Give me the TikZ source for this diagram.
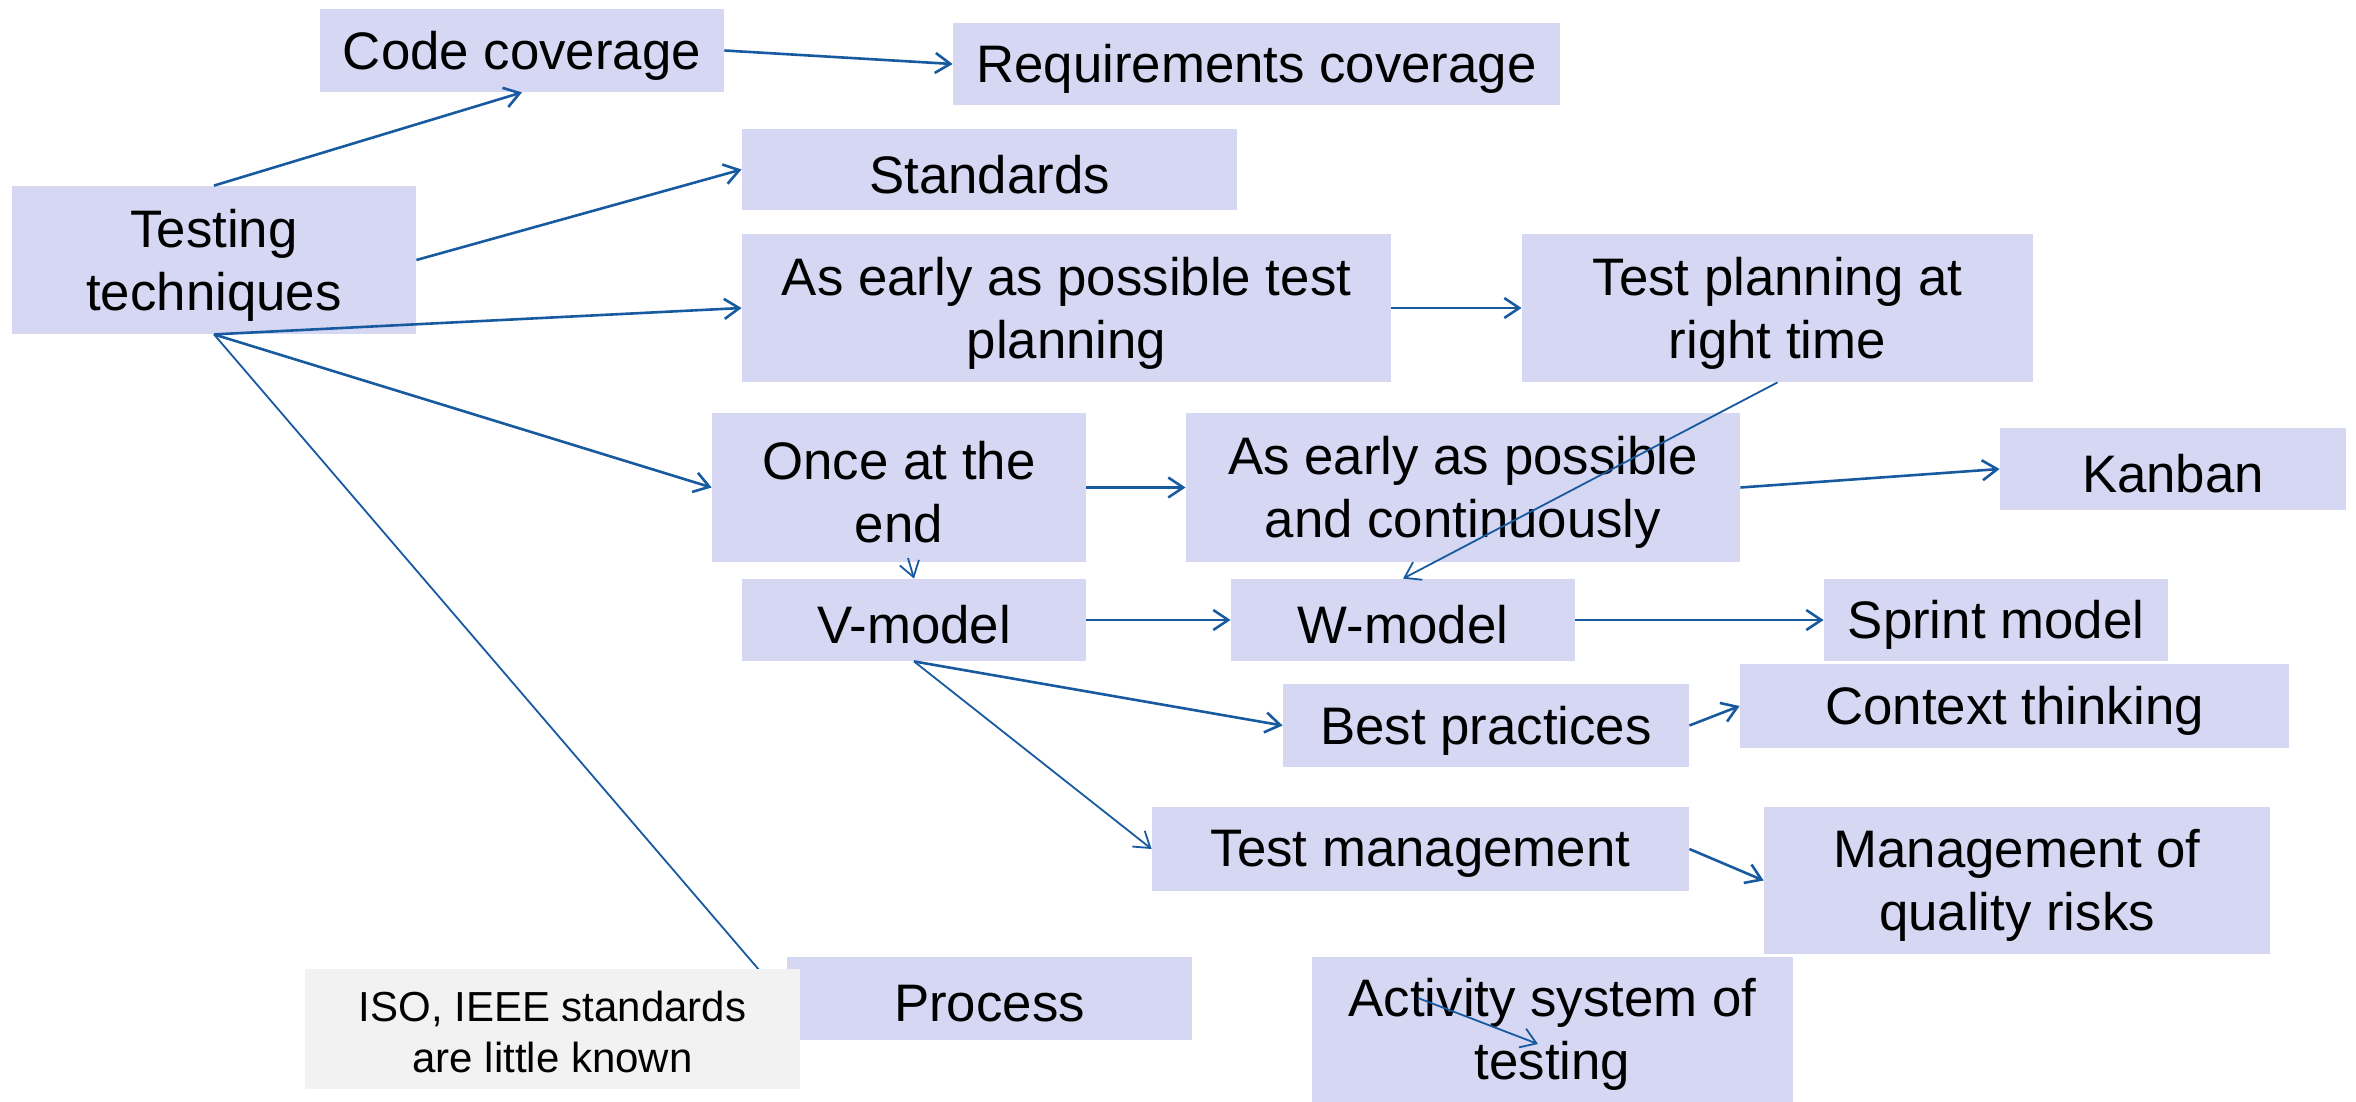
\documentclass[tikz,border=0pt]{standalone}
\usepackage{fontspec}
\setmainfont{Liberation Sans}
\usetikzlibrary{arrows.meta}
\definecolor{boxc}{RGB}{214,215,243}
\definecolor{notec}{RGB}{242,242,242}
\definecolor{arr}{RGB}{24,90,160}
\tikzset{
 bx/.style={fill=boxc, inner sep=0pt},
 bxtext/.style={inner sep=0pt, align=center, yshift=-2.5pt, font=\fontsize{26.4}{31.5}\selectfont},
 nt/.style={fill=notec, inner sep=0pt},
 nttext/.style={inner sep=0pt, align=center, yshift=-1.5pt, font=\fontsize{21}{25.5}\selectfont},
 ar/.style={draw=arr, line width=1.3pt, -{Straight Barb[length=7.5pt,width=10pt]}},
 ln/.style={draw=arr, line width=0.9pt},
 lw/.style={line width=0.9pt}
}
\newcommand\boxnode[7]{\node[#1, minimum width={(#5-#3)*0.5pt}, minimum height={(#6-#4)*0.5pt}, label={[#1text]center:{#7}}] (#2) at ({(#3+#5)/2},{(#4+#6)/2}) {};}
\begin{document}
\begin{tikzpicture}[x=0.5pt,y=-0.5pt]
\useasboundingbox (0,0) rectangle (2356,1102);
\boxnode{bx}{code}{320}{9}{724}{92}{Code coverage}
\boxnode{bx}{req}{953}{23}{1560}{105}{Requirements coverage}
\boxnode{bx}{tt}{12}{186}{416}{334}{Testing\\techniques}
\boxnode{bx}{std}{742}{129}{1237}{210}{Standards}
\boxnode{bx}{aeap}{742}{234}{1391}{382}{As early as possible test\\planning}
\boxnode{bx}{tprt}{1522}{234}{2033}{382}{Test planning at\\right time}
\boxnode{bx}{once}{712}{413}{1086}{562}{Once at the\\end}
\boxnode{bx}{aeapc}{1186}{413}{1740}{562}{As early as possible\\and continuously}
\boxnode{bx}{kanban}{2000}{428}{2346}{510}{Kanban}
\boxnode{bx}{vm}{742}{579}{1086}{661}{V-model}
\boxnode{bx}{wm}{1231}{579}{1575}{661}{W-model}
\boxnode{bx}{sprint}{1824}{579}{2168}{661}{Sprint model}
\boxnode{bx}{ctx}{1740}{664}{2289}{748}{Context thinking}
\boxnode{bx}{best}{1283}{684}{1689}{767}{Best practices}
\boxnode{bx}{tm}{1152}{807}{1689}{891}{Test management}
\boxnode{bx}{mqr}{1764}{807}{2270}{954}{Management of\\quality risks}
\boxnode{bx}{proc}{787}{957}{1192}{1040}{Process}
\boxnode{bx}{act}{1312}{957}{1793}{1102}{Activity system of\\testing}
\coordinate (procend) at (772,985);
\coordinate (o1) at (908,558);
\coordinate (a1) at (1418,998);
\coordinate (a2) at (1538,1044);

\draw[ar] (tt.north) -- (code.south);
\draw[ar] (code.east) -- (req.west);
\draw[ar] (tt.east) -- (std.west);
\draw[ar] (tt.south) -- (aeap.west);
\draw[ar] (tt.south) -- (once.west);
\draw[ln] (tt.south) -- (procend);
\draw[ar] (aeap.east) -- (tprt.west);
\draw[ar,lw] (tprt.south) -- (wm.north);
\draw[ar] (once.east) -- (aeapc.west);
\draw[ar] (aeapc.east) -- (kanban.west);
\draw[ar,lw] (o1) -- (vm.north);
\draw[ar] (vm.east) -- (wm.west);
\draw[ar] (wm.east) -- (sprint.west);
\draw[ar] (vm.south) -- (best.west);
\draw[ar,lw] (vm.south) -- (tm.west);
\draw[ar] (best.east) -- (ctx.west);
\draw[ar] (tm.east) -- (mqr.west);
\draw[ar,lw] (a1) -- (a2);

\boxnode{nt}{iso}{305}{969}{800}{1089}{ISO, IEEE standards\\are little known}
\end{tikzpicture}
\end{document}
